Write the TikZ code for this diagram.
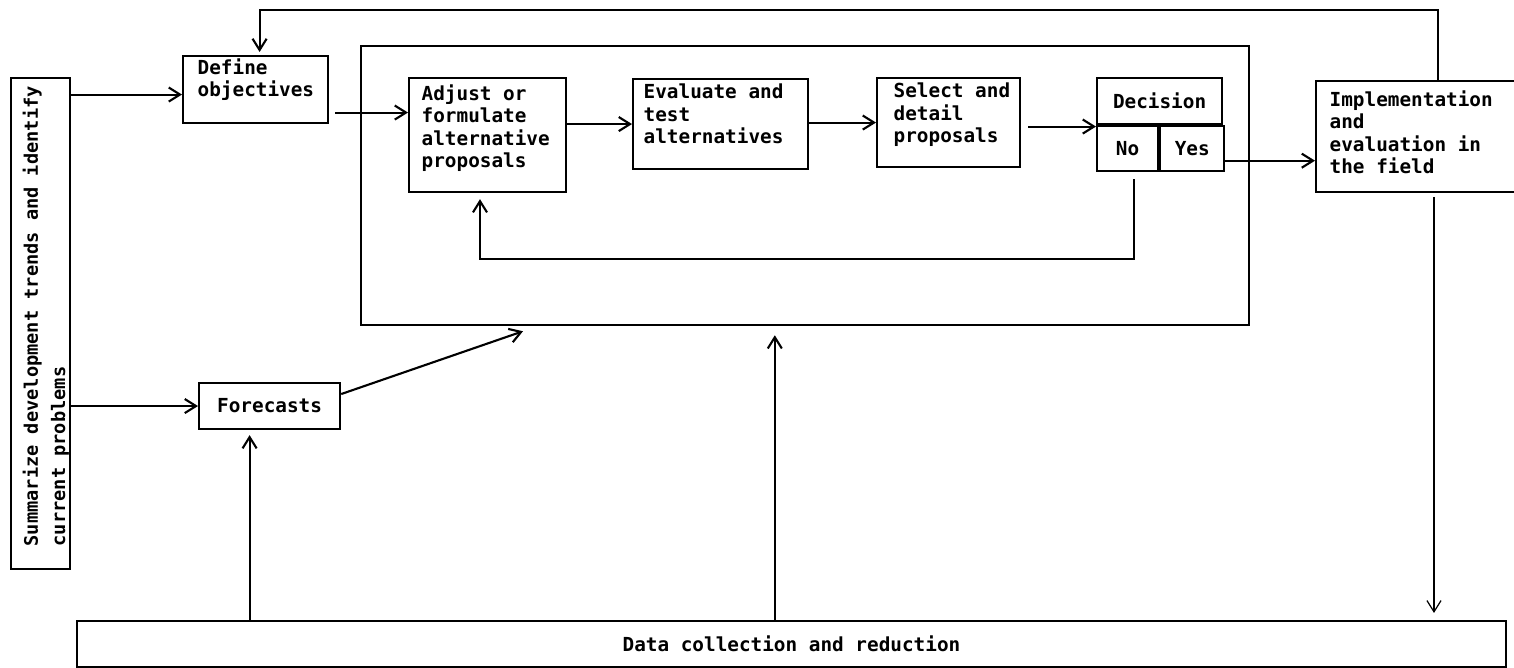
\documentclass[tikz,border=0pt]{standalone}
\usepackage{fontspec}
\setmonofont{DejaVu Sans Mono}
\usetikzlibrary{calc,arrows.meta}

\begin{document}
\begin{tikzpicture}[x=0.01cm, y=-0.01cm,
    every node/.style={font=\ttfamily\bfseries\fontsize{5.5}{6.4}\selectfont},
    box/.style={draw, line width=0.6pt, anchor=north west, inner sep=0pt},
    txt/.style={anchor=base west, align=left, inner sep=0pt},
    arr/.style={line width=0.6pt, -{Straight Barb[length=3.2pt,width=4pt]}}]
    \useasboundingbox (0,0) rectangle (1514,668);

    % Left column: trends, objectives, forecasts
    % (txt nodes sit on the baseline of their last line)
    \node[box, minimum width=0.59cm, minimum height=4.91cm] (L) at (10,77) {};
    \node[txt, rotate=90, font=\ttfamily\bfseries\fontsize{5.3}{7.7}\selectfont] (Lt) at (65,547) {Summarize development trends and identify\\current problems};
    \node[box, minimum width=1.45cm, minimum height=0.67cm] (O) at (182,55) {};
    \node[txt] (Ot) at ($(O.north west)+(15,42)$) {Define\\objectives};
    \node[box, minimum width=1.41cm, minimum height=0.46cm] (F) at (198,382) {Forecasts};

    % Planning loop
    \node[box, minimum width=8.87cm, minimum height=2.79cm] (outer) at (360,45) {};
    \node[box, minimum width=1.57cm, minimum height=1.14cm] (A) at (408,77) {};
    \node[txt] (At) at ($(A.north west)+(13,91)$) {Adjust or\\formulate\\alternative\\proposals};
    \node[box, minimum width=1.75cm, minimum height=0.90cm] (E) at (632,78) {};
    \node[txt] (Et) at ($(E.north west)+(11,66)$) {Evaluate and\\test\\alternatives};
    \node[box, minimum width=1.43cm, minimum height=0.89cm] (S) at (876,77) {};
    \node[txt] (St) at ($(S.north west)+(17,66)$) {Select and\\detail\\proposals};
    \node[box, minimum width=1.25cm, minimum height=0.46cm] (D) at (1096,77) {Decision};
    \node[box, minimum width=0.61cm, minimum height=0.45cm] (No) at (D.south west) {No};
    \node[box, minimum width=0.64cm, minimum height=0.45cm] (Yes) at (No.north east) {Yes};

    % Field and data
    \node[box, minimum width=2.20cm, minimum height=1.11cm] (I) at (1315,80) {};
    \node[txt] (It) at ($(I.north west)+(14,94)$) {Implementation\\and\\evaluation in\\the field};
    \node[box, minimum width=14.28cm, minimum height=0.46cm] (DC) at (76,620) {Data collection and reduction};

    % Forward arrows
    \coordinate (lo) at ($(O.west)+(0,5)$);
    \draw[arr] (lo -| L.east) -- (lo);
    \draw[arr] (L.east |- F.west) -- (F.west);
    \coordinate (oa) at ($(O.east)+(6,23)$);
    \draw[arr] (oa) -- (oa -| A.west);
    \draw[arr] (A.east |- E.west) -- (E.west);
    \draw[arr] (E.east |- S.west) -- (S.west);
    \coordinate (sd) at ($(S.east)+(7,4)$);
    \draw[arr] (sd) -- (sd -| No.west);
    \coordinate (yi) at ($(Yes.east)+(0,12)$);
    \draw[arr] (yi) -- (yi -| I.west);
    \draw[arr] ($(F.east)+(0,-12)$) -- ($(outer.south west)+(163,5)$);

    % Feedback loops
    \coordinate (fb) at (480,259);
    \draw[arr] ($(No.south)+(6,7)$) |- (fb) -- ($(fb |- A.south)+(0,6)$);
    \coordinate (top) at (1438,10);
    \draw[arr] (top |- I.north) -- (top) -| ($(O.north)+(4,-3)$);

    % Data links
    \coordinate (dn) at (1434,197);
    \draw[arr, line width=0.35pt] (dn) -- ($(dn |- DC.north)+(0,-7)$);
    \coordinate (fu) at ($(F.south)+(-20,5)$);
    \draw[arr] (fu |- DC.north) -- (fu);
    \coordinate (ou) at ($(outer.south)+(-30,9)$);
    \draw[arr] (ou |- DC.north) -- (ou);
\end{tikzpicture}
\end{document}
